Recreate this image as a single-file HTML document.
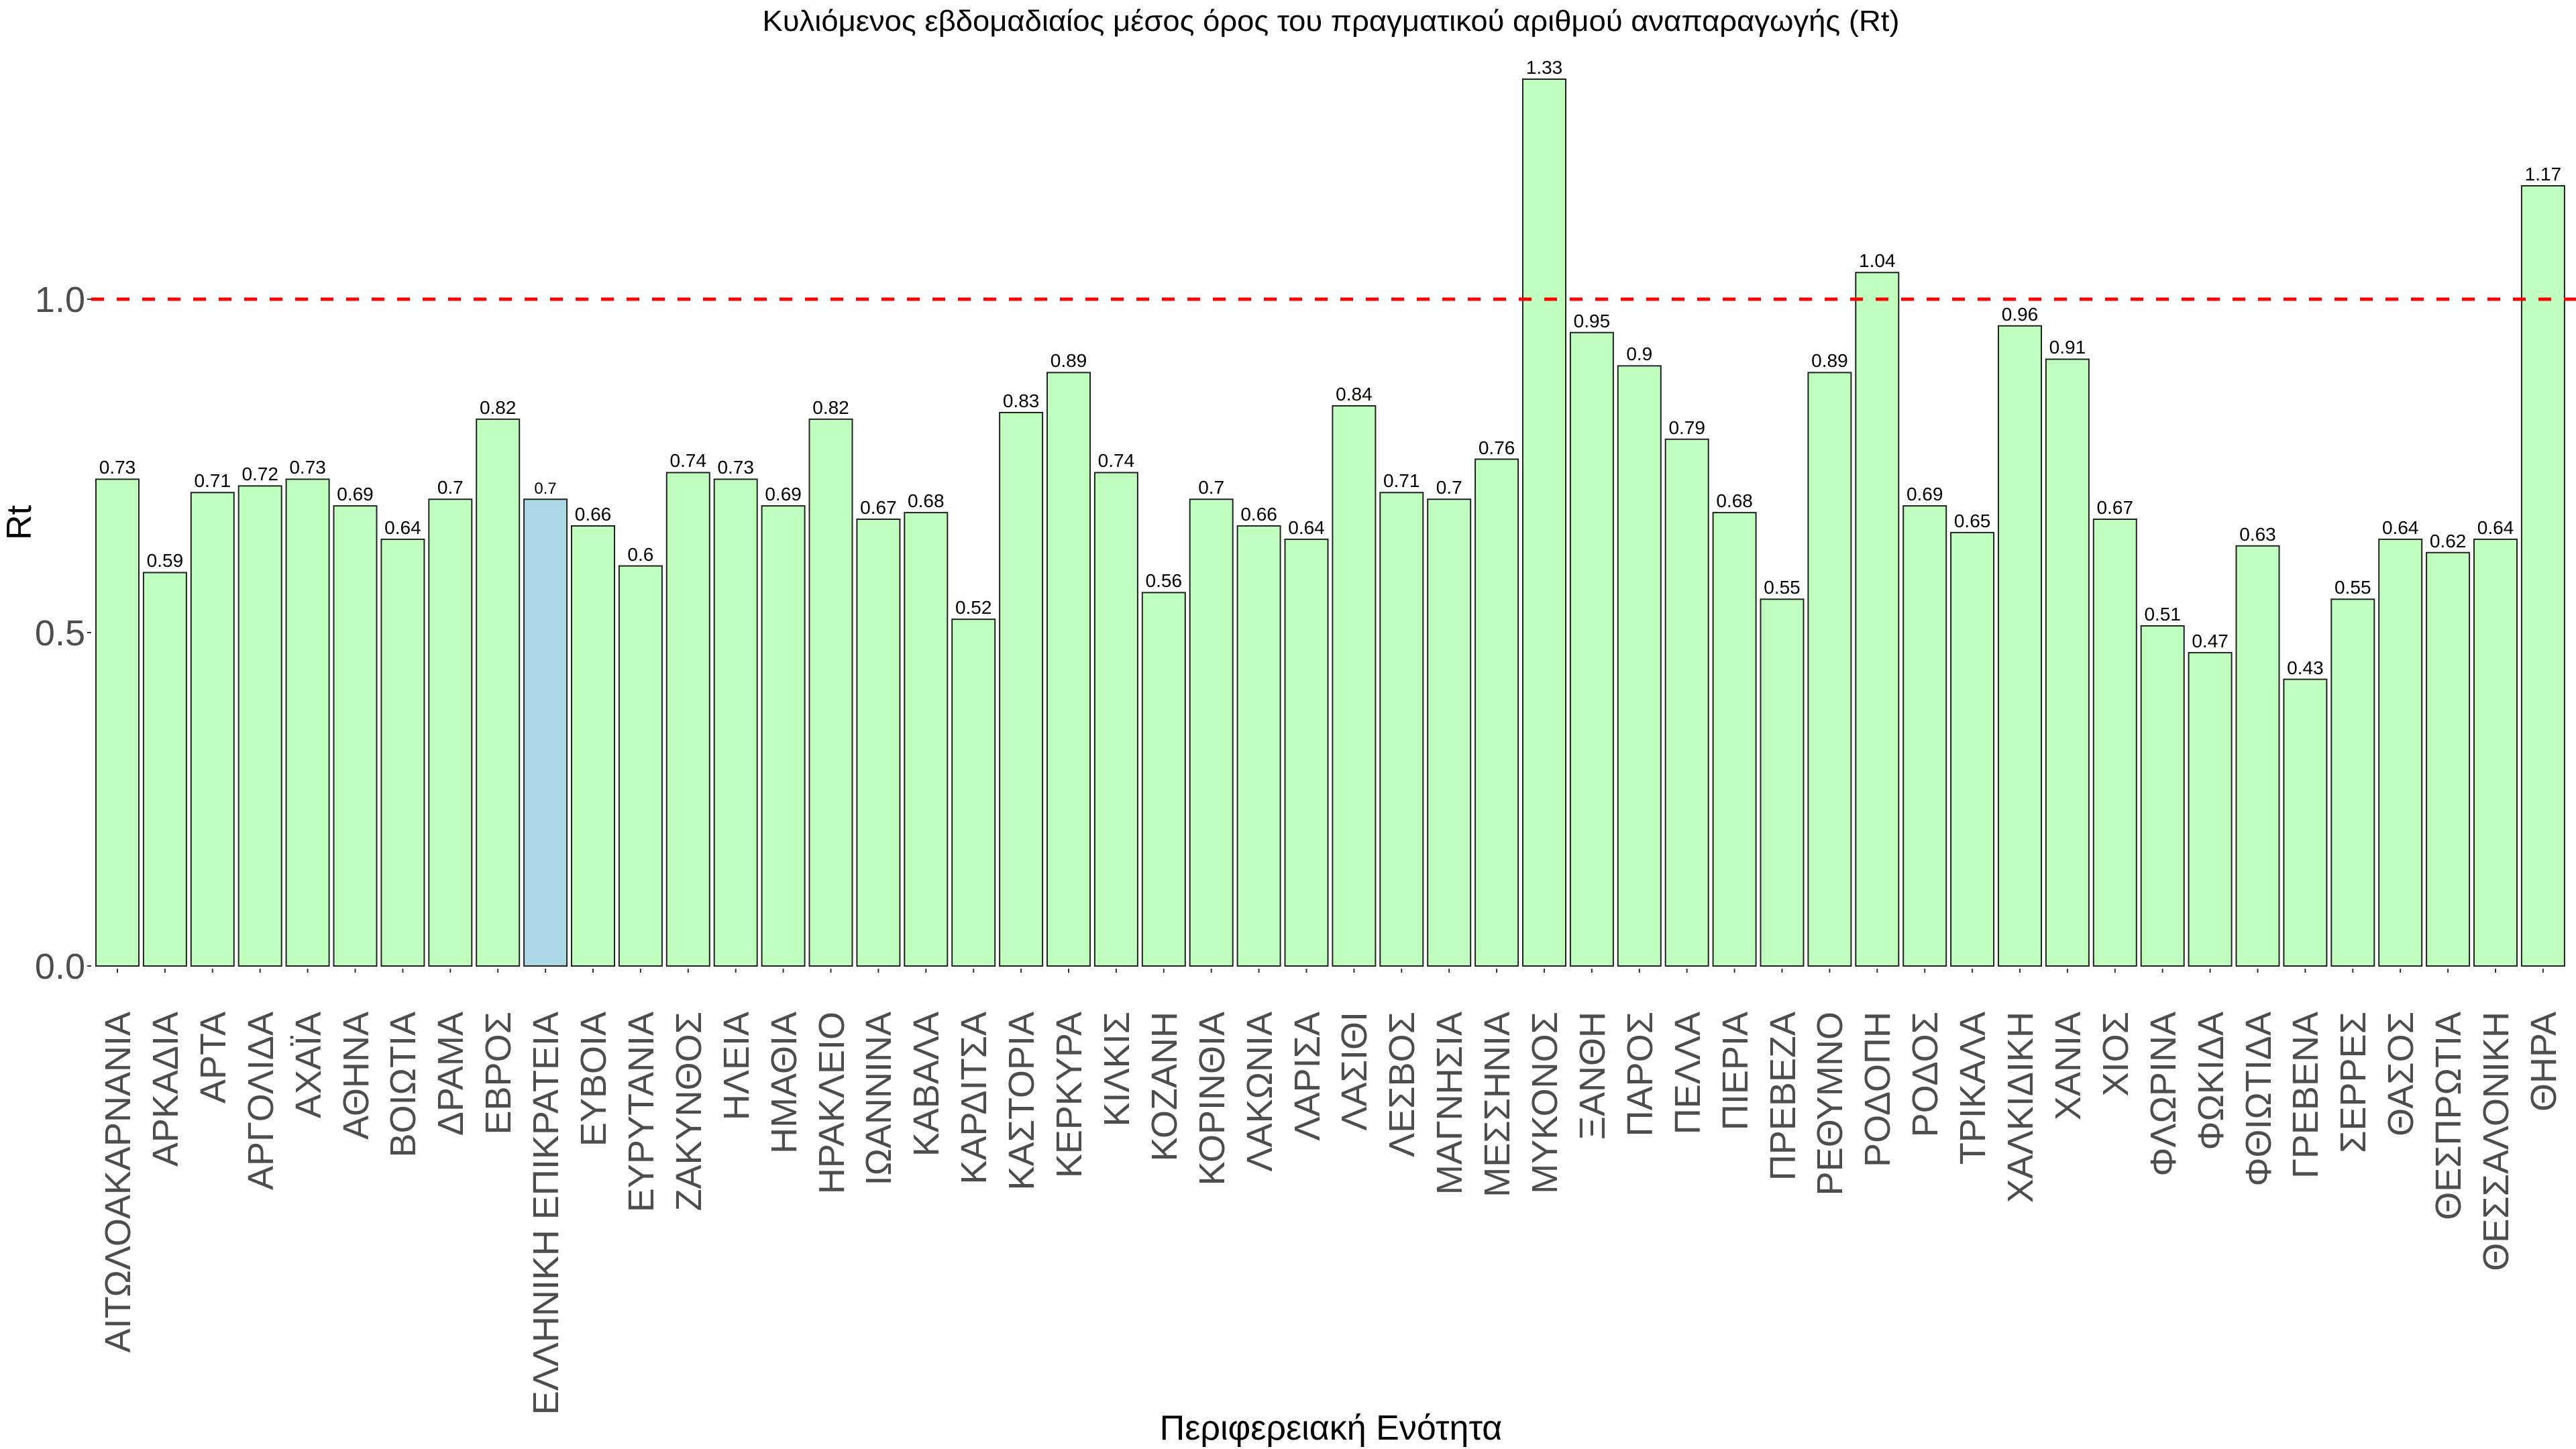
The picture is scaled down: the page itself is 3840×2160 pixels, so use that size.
<!DOCTYPE html>
<html><head><meta charset="utf-8"><style>html,body{margin:0;padding:0;background:#fff}svg{display:block}</style></head>
<body>
<svg xmlns="http://www.w3.org/2000/svg" width="3840" height="2160" viewBox="0 0 3840 2160" font-family="'Liberation Sans', 'DejaVu Sans', sans-serif">
<rect width="3840" height="2160" fill="#fff"/>
<text x="1984" y="46" font-size="44" text-anchor="middle" textLength="1695" lengthAdjust="spacingAndGlyphs">Κυλιόμενος εβδομαδιαίος μέσος όρος του πραγματικού αριθμού αναπαραγωγής (Rt)</text>
<g font-size="54" fill="#4d4d4d" text-anchor="end">
<text x="127" y="1459">0.0</text>
<text x="127" y="962">0.5</text>
<text x="127" y="465">1.0</text>
</g>
<g stroke="#333" stroke-width="2"><line x1="130" y1="1440" x2="136" y2="1440"/><line x1="130" y1="943" x2="136" y2="943"/><line x1="130" y1="446" x2="136" y2="446"/></g>
<text transform="translate(46,779) rotate(-90)" font-size="52" text-anchor="middle">Rt</text>
<text x="1984" y="2146" font-size="52" text-anchor="middle">Περιφερειακή Ενότητα</text>
<g transform="translate(143,1440) scale(70.9,-994)" fill="#c1ffc1" stroke="#222" stroke-width="2">
<rect vector-effect="non-scaling-stroke" x="0" y="0" width="0.9027" height="0.73"/>
<rect vector-effect="non-scaling-stroke" x="1" y="0" width="0.9027" height="0.59"/>
<rect vector-effect="non-scaling-stroke" x="2" y="0" width="0.9027" height="0.71"/>
<rect vector-effect="non-scaling-stroke" x="3" y="0" width="0.9027" height="0.72"/>
<rect vector-effect="non-scaling-stroke" x="4" y="0" width="0.9027" height="0.73"/>
<rect vector-effect="non-scaling-stroke" x="5" y="0" width="0.9027" height="0.69"/>
<rect vector-effect="non-scaling-stroke" x="6" y="0" width="0.9027" height="0.64"/>
<rect vector-effect="non-scaling-stroke" x="7" y="0" width="0.9027" height="0.70"/>
<rect vector-effect="non-scaling-stroke" x="8" y="0" width="0.9027" height="0.82"/>
<rect vector-effect="non-scaling-stroke" x="9" y="0" width="0.9027" height="0.70" fill="#add8e6"/>
<rect vector-effect="non-scaling-stroke" x="10" y="0" width="0.9027" height="0.66"/>
<rect vector-effect="non-scaling-stroke" x="11" y="0" width="0.9027" height="0.60"/>
<rect vector-effect="non-scaling-stroke" x="12" y="0" width="0.9027" height="0.74"/>
<rect vector-effect="non-scaling-stroke" x="13" y="0" width="0.9027" height="0.73"/>
<rect vector-effect="non-scaling-stroke" x="14" y="0" width="0.9027" height="0.69"/>
<rect vector-effect="non-scaling-stroke" x="15" y="0" width="0.9027" height="0.82"/>
<rect vector-effect="non-scaling-stroke" x="16" y="0" width="0.9027" height="0.67"/>
<rect vector-effect="non-scaling-stroke" x="17" y="0" width="0.9027" height="0.68"/>
<rect vector-effect="non-scaling-stroke" x="18" y="0" width="0.9027" height="0.52"/>
<rect vector-effect="non-scaling-stroke" x="19" y="0" width="0.9027" height="0.83"/>
<rect vector-effect="non-scaling-stroke" x="20" y="0" width="0.9027" height="0.89"/>
<rect vector-effect="non-scaling-stroke" x="21" y="0" width="0.9027" height="0.74"/>
<rect vector-effect="non-scaling-stroke" x="22" y="0" width="0.9027" height="0.56"/>
<rect vector-effect="non-scaling-stroke" x="23" y="0" width="0.9027" height="0.70"/>
<rect vector-effect="non-scaling-stroke" x="24" y="0" width="0.9027" height="0.66"/>
<rect vector-effect="non-scaling-stroke" x="25" y="0" width="0.9027" height="0.64"/>
<rect vector-effect="non-scaling-stroke" x="26" y="0" width="0.9027" height="0.84"/>
<rect vector-effect="non-scaling-stroke" x="27" y="0" width="0.9027" height="0.71"/>
<rect vector-effect="non-scaling-stroke" x="28" y="0" width="0.9027" height="0.70"/>
<rect vector-effect="non-scaling-stroke" x="29" y="0" width="0.9027" height="0.76"/>
<rect vector-effect="non-scaling-stroke" x="30" y="0" width="0.9027" height="1.33"/>
<rect vector-effect="non-scaling-stroke" x="31" y="0" width="0.9027" height="0.95"/>
<rect vector-effect="non-scaling-stroke" x="32" y="0" width="0.9027" height="0.90"/>
<rect vector-effect="non-scaling-stroke" x="33" y="0" width="0.9027" height="0.79"/>
<rect vector-effect="non-scaling-stroke" x="34" y="0" width="0.9027" height="0.68"/>
<rect vector-effect="non-scaling-stroke" x="35" y="0" width="0.9027" height="0.55"/>
<rect vector-effect="non-scaling-stroke" x="36" y="0" width="0.9027" height="0.89"/>
<rect vector-effect="non-scaling-stroke" x="37" y="0" width="0.9027" height="1.04"/>
<rect vector-effect="non-scaling-stroke" x="38" y="0" width="0.9027" height="0.69"/>
<rect vector-effect="non-scaling-stroke" x="39" y="0" width="0.9027" height="0.65"/>
<rect vector-effect="non-scaling-stroke" x="40" y="0" width="0.9027" height="0.96"/>
<rect vector-effect="non-scaling-stroke" x="41" y="0" width="0.9027" height="0.91"/>
<rect vector-effect="non-scaling-stroke" x="42" y="0" width="0.9027" height="0.67"/>
<rect vector-effect="non-scaling-stroke" x="43" y="0" width="0.9027" height="0.51"/>
<rect vector-effect="non-scaling-stroke" x="44" y="0" width="0.9027" height="0.47"/>
<rect vector-effect="non-scaling-stroke" x="45" y="0" width="0.9027" height="0.63"/>
<rect vector-effect="non-scaling-stroke" x="46" y="0" width="0.9027" height="0.43"/>
<rect vector-effect="non-scaling-stroke" x="47" y="0" width="0.9027" height="0.55"/>
<rect vector-effect="non-scaling-stroke" x="48" y="0" width="0.9027" height="0.64"/>
<rect vector-effect="non-scaling-stroke" x="49" y="0" width="0.9027" height="0.62"/>
<rect vector-effect="non-scaling-stroke" x="50" y="0" width="0.9027" height="0.64"/>
<rect vector-effect="non-scaling-stroke" x="51" y="0" width="0.9027" height="1.17"/>
</g>
<line x1="136" y1="446" x2="3840" y2="446" stroke="#ff0000" stroke-width="5" stroke-dasharray="19 19"/>
<g font-size="28" text-anchor="middle" fill="#000">
<text x="175.0" y="706">0.73</text>
<text x="245.9" y="845">0.59</text>
<text x="316.8" y="726">0.71</text>
<text x="387.7" y="716">0.72</text>
<text x="458.6" y="706">0.73</text>
<text x="529.5" y="746">0.69</text>
<text x="600.4" y="796">0.64</text>
<text x="671.3" y="736">0.7</text>
<text x="742.2" y="617">0.82</text>
<text x="813.1" y="736" font-size="24">0.7</text>
<text x="884.0" y="776">0.66</text>
<text x="954.9" y="836">0.6</text>
<text x="1025.8" y="696">0.74</text>
<text x="1096.7" y="706">0.73</text>
<text x="1167.6" y="746">0.69</text>
<text x="1238.5" y="617">0.82</text>
<text x="1309.4" y="766">0.67</text>
<text x="1380.3" y="756">0.68</text>
<text x="1451.2" y="915">0.52</text>
<text x="1522.1" y="607">0.83</text>
<text x="1593.0" y="547">0.89</text>
<text x="1663.9" y="696">0.74</text>
<text x="1734.8" y="875">0.56</text>
<text x="1805.7" y="736">0.7</text>
<text x="1876.6" y="776">0.66</text>
<text x="1947.5" y="796">0.64</text>
<text x="2018.4" y="597">0.84</text>
<text x="2089.3" y="726">0.71</text>
<text x="2160.2" y="736">0.7</text>
<text x="2231.1" y="677">0.76</text>
<text x="2302.0" y="110">1.33</text>
<text x="2372.9" y="488">0.95</text>
<text x="2443.8" y="537">0.9</text>
<text x="2514.7" y="647">0.79</text>
<text x="2585.6" y="756">0.68</text>
<text x="2656.5" y="885">0.55</text>
<text x="2727.4" y="547">0.89</text>
<text x="2798.3" y="398">1.04</text>
<text x="2869.2" y="746">0.69</text>
<text x="2940.1" y="786">0.65</text>
<text x="3011.0" y="478">0.96</text>
<text x="3081.9" y="527">0.91</text>
<text x="3152.8" y="766">0.67</text>
<text x="3223.7" y="925">0.51</text>
<text x="3294.6" y="965">0.47</text>
<text x="3365.5" y="806">0.63</text>
<text x="3436.4" y="1005">0.43</text>
<text x="3507.3" y="885">0.55</text>
<text x="3578.2" y="796">0.64</text>
<text x="3649.1" y="816">0.62</text>
<text x="3720.0" y="796">0.64</text>
<text x="3790.9" y="269">1.17</text>
</g>
<g font-size="54" fill="#4d4d4d" text-anchor="end">
<text transform="translate(194,1508) rotate(-90)">ΑΙΤΩΛΟΑΚΑΡΝΑΝΙΑ</text>
<text transform="translate(265,1508) rotate(-90)">ΑΡΚΑΔΙΑ</text>
<text transform="translate(336,1508) rotate(-90)">ΑΡΤΑ</text>
<text transform="translate(407,1508) rotate(-90)">ΑΡΓΟΛΙΔΑ</text>
<text transform="translate(478,1508) rotate(-90)">ΑΧΑΪΑ</text>
<text transform="translate(549,1508) rotate(-90)">ΑΘΗΝΑ</text>
<text transform="translate(619,1508) rotate(-90)">ΒΟΙΩΤΙΑ</text>
<text transform="translate(690,1508) rotate(-90)">ΔΡΑΜΑ</text>
<text transform="translate(761,1508) rotate(-90)">ΕΒΡΟΣ</text>
<text transform="translate(832,1508) rotate(-90)">ΕΛΛΗΝΙΚΗ ΕΠΙΚΡΑΤΕΙΑ</text>
<text transform="translate(903,1508) rotate(-90)">ΕΥΒΟΙΑ</text>
<text transform="translate(974,1508) rotate(-90)">ΕΥΡΥΤΑΝΙΑ</text>
<text transform="translate(1045,1508) rotate(-90)">ΖΑΚΥΝΘΟΣ</text>
<text transform="translate(1116,1508) rotate(-90)">ΗΛΕΙΑ</text>
<text transform="translate(1187,1508) rotate(-90)">ΗΜΑΘΙΑ</text>
<text transform="translate(1258,1508) rotate(-90)">ΗΡΑΚΛΕΙΟ</text>
<text transform="translate(1328,1508) rotate(-90)">ΙΩΑΝΝΙΝΑ</text>
<text transform="translate(1399,1508) rotate(-90)">ΚΑΒΑΛΑ</text>
<text transform="translate(1470,1508) rotate(-90)">ΚΑΡΔΙΤΣΑ</text>
<text transform="translate(1541,1508) rotate(-90)">ΚΑΣΤΟΡΙΑ</text>
<text transform="translate(1612,1508) rotate(-90)">ΚΕΡΚΥΡΑ</text>
<text transform="translate(1683,1508) rotate(-90)">ΚΙΛΚΙΣ</text>
<text transform="translate(1754,1508) rotate(-90)">ΚΟΖΑΝΗ</text>
<text transform="translate(1825,1508) rotate(-90)">ΚΟΡΙΝΘΙΑ</text>
<text transform="translate(1896,1508) rotate(-90)">ΛΑΚΩΝΙΑ</text>
<text transform="translate(1967,1508) rotate(-90)">ΛΑΡΙΣΑ</text>
<text transform="translate(2037,1508) rotate(-90)">ΛΑΣΙΘΙ</text>
<text transform="translate(2108,1508) rotate(-90)">ΛΕΣΒΟΣ</text>
<text transform="translate(2179,1508) rotate(-90)">ΜΑΓΝΗΣΙΑ</text>
<text transform="translate(2250,1508) rotate(-90)">ΜΕΣΣΗΝΙΑ</text>
<text transform="translate(2321,1508) rotate(-90)">ΜΥΚΟΝΟΣ</text>
<text transform="translate(2392,1508) rotate(-90)">ΞΑΝΘΗ</text>
<text transform="translate(2463,1508) rotate(-90)">ΠΑΡΟΣ</text>
<text transform="translate(2534,1508) rotate(-90)">ΠΕΛΛΑ</text>
<text transform="translate(2605,1508) rotate(-90)">ΠΙΕΡΙΑ</text>
<text transform="translate(2676,1508) rotate(-90)">ΠΡΕΒΕΖΑ</text>
<text transform="translate(2746,1508) rotate(-90)">ΡΕΘΥΜΝΟ</text>
<text transform="translate(2817,1508) rotate(-90)">ΡΟΔΟΠΗ</text>
<text transform="translate(2888,1508) rotate(-90)">ΡΟΔΟΣ</text>
<text transform="translate(2959,1508) rotate(-90)">ΤΡΙΚΑΛΑ</text>
<text transform="translate(3030,1508) rotate(-90)">ΧΑΛΚΙΔΙΚΗ</text>
<text transform="translate(3101,1508) rotate(-90)">ΧΑΝΙΑ</text>
<text transform="translate(3172,1508) rotate(-90)">ΧΙΟΣ</text>
<text transform="translate(3243,1508) rotate(-90)">ΦΛΩΡΙΝΑ</text>
<text transform="translate(3314,1508) rotate(-90)">ΦΩΚΙΔΑ</text>
<text transform="translate(3385,1508) rotate(-90)">ΦΘΙΩΤΙΔΑ</text>
<text transform="translate(3455,1508) rotate(-90)">ΓΡΕΒΕΝΑ</text>
<text transform="translate(3526,1508) rotate(-90)">ΣΕΡΡΕΣ</text>
<text transform="translate(3597,1508) rotate(-90)">ΘΑΣΟΣ</text>
<text transform="translate(3668,1508) rotate(-90)">ΘΕΣΠΡΩΤΙΑ</text>
<text transform="translate(3739,1508) rotate(-90)">ΘΕΣΣΑΛΟΝΙΚΗ</text>
<text transform="translate(3810,1508) rotate(-90)">ΘΗΡΑ</text>
</g>
<g stroke="#333" stroke-width="2">
<path d="M175,1444v6M245.9,1444v6M316.8,1444v6M387.7,1444v6M458.6,1444v6M529.5,1444v6M600.4,1444v6M671.3,1444v6M742.2,1444v6M813.1,1444v6M884,1444v6M954.9,1444v6M1025.8,1444v6M1096.7,1444v6M1167.6,1444v6M1238.5,1444v6M1309.4,1444v6M1380.3,1444v6M1451.2,1444v6M1522.1,1444v6M1593,1444v6M1663.9,1444v6M1734.8,1444v6M1805.7,1444v6M1876.6,1444v6M1947.5,1444v6M2018.4,1444v6M2089.3,1444v6M2160.2,1444v6M2231.1,1444v6M2302,1444v6M2372.9,1444v6M2443.8,1444v6M2514.7,1444v6M2585.6,1444v6M2656.5,1444v6M2727.4,1444v6M2798.3,1444v6M2869.2,1444v6M2940.1,1444v6M3011,1444v6M3081.9,1444v6M3152.8,1444v6M3223.7,1444v6M3294.6,1444v6M3365.5,1444v6M3436.4,1444v6M3507.3,1444v6M3578.2,1444v6M3649.1,1444v6M3720,1444v6M3790.9,1444v6"/>
</g>
</svg>
</body></html>
